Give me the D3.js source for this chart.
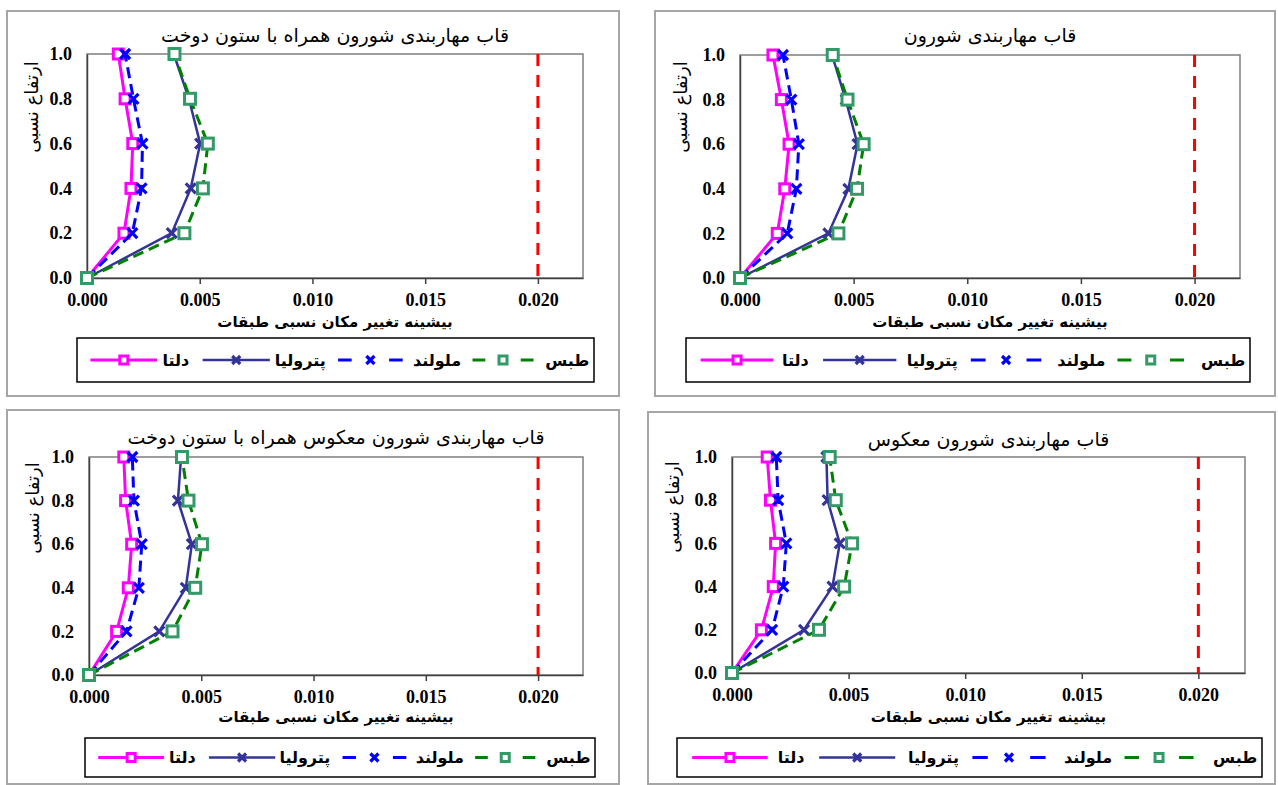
<!DOCTYPE html>
<html>
<head>
<meta charset="utf-8">
<script src="https://cdn.jsdelivr.net/npm/d3@7"></script>
<style>
  body { margin: 0; background: #fff; }
</style>
</head>
<body>
<script>
// relative height of each floor
const heights = [0, 0.2, 0.4, 0.6, 0.8, 1.0];
const names = ["دلتا", "پترولیا", "ملولند", "طبس"];
const xTicks = [0, 0.005, 0.010, 0.015, 0.020];
const yTicks = [0, 0.2, 0.4, 0.6, 0.8, 1.0];
const xMax = 0.022;
const driftLimit = 0.020;
const titles = [
  "قاب مهاربندی شورون همراه با ستون دوخت",
  "قاب مهاربندی شورون",
  "قاب مهاربندی شورون معکوس همراه با ستون دوخت",
  "قاب مهاربندی شورون معکوس"
];
const xTitle = "بیشینه تغییر مکان نسبی طبقات";
const yTitle = "ارتفاع نسبی";

// top-left
const tlDelta    = [0, 0.00164, 0.00195, 0.00203, 0.00169, 0.00139];
const tlPetrolia = [0, 0.00376, 0.00460, 0.00502, 0.00452, 0.00385];
const tlMalolend = [0, 0.00201, 0.00242, 0.00246, 0.00206, 0.00169];
const tlTabas    = [0, 0.00432, 0.00514, 0.00536, 0.00457, 0.00388];
// top-right
const trDelta    = [0, 0.00164, 0.00197, 0.00216, 0.00182, 0.00145];
const trPetrolia = [0, 0.00389, 0.00477, 0.00517, 0.00465, 0.00405];
const trMalolend = [0, 0.00208, 0.00248, 0.00259, 0.00226, 0.00189];
const trTabas    = [0, 0.00433, 0.00515, 0.00544, 0.00473, 0.00408];
// bottom-left
const blDelta    = [0, 0.00123, 0.00175, 0.00190, 0.00163, 0.00155];
const blPetrolia = [0, 0.00313, 0.00431, 0.00458, 0.00396, 0.00410];
const blMalolend = [0, 0.00167, 0.00222, 0.00235, 0.00200, 0.00193];
const blTabas    = [0, 0.00372, 0.00473, 0.00503, 0.00443, 0.00414];
// bottom-right
const brDelta    = [0, 0.00126, 0.00177, 0.00187, 0.00165, 0.00151];
const brPetrolia = [0, 0.00309, 0.00431, 0.00462, 0.00410, 0.00405];
const brMalolend = [0, 0.00172, 0.00220, 0.00233, 0.00198, 0.00190];
const brTabas    = [0, 0.00373, 0.00481, 0.00515, 0.00445, 0.00419];

const styles = [
  { color: "#ff00ff", width: 3,   dash: null,   marker: "square", mColor: "#ff00ff", size: 13 },
  { color: "#333399", width: 2.5, dash: null,   marker: "x",      mColor: "#333399", size: 13 },
  { color: "#0000ff", width: 3,   dash: "11,6", marker: "x",      mColor: "#0000ff", size: 13 },
  { color: "#008000", width: 3,   dash: "11,6", marker: "square", mColor: "#339966", size: 14 }
];

// legend item positions as fraction of legend box width: sample start, sample end, text right
const legendPos = [
  [0.026, 0.155, 0.223],
  [0.243, 0.373, 0.487],
  [0.505, 0.630, 0.749],
  [0.765, 0.883, 0.997]
];

const panels = [
  { series: [tlDelta, tlPetrolia, tlMalolend, tlTabas], title: titles[0],
    outer: [7, 11, 619, 396], plot: [87, 54, 583, 278], legend: [77, 338, 594, 382],
    titleY: 42, yTitleX: 33, yTitleY: 107, xTitleY: 327 },
  { series: [trDelta, trPetrolia, trMalolend, trTabas], title: titles[1],
    outer: [655, 11, 1275, 396], plot: [740, 55, 1240, 278], legend: [686, 338, 1250, 382],
    titleY: 42, yTitleX: 682, yTitleY: 107, xTitleY: 327 },
  { series: [blDelta, blPetrolia, blMalolend, blTabas], title: titles[2],
    outer: [7, 410, 619, 784], plot: [89, 457, 583, 675], legend: [85, 738, 595, 777],
    titleY: 444, yTitleX: 34, yTitleY: 508, xTitleY: 722 },
  { series: [brDelta, brPetrolia, brMalolend, brTabas], title: titles[3],
    outer: [648, 412, 1275, 784], plot: [732, 457, 1245, 673], legend: [677, 738, 1262, 777],
    titleY: 446, yTitleX: 674, yTitleY: 507, xTitleY: 722 }
];

const faFont = "'DejaVu Sans', sans-serif";
const numFont = "'Liberation Serif', 'Times New Roman', serif";

const svg = d3.select("body").append("svg")
  .attr("width", 1278)
  .attr("height", 785);

function drawMarker(g, type, cx, cy, size, color) {
  const h = size / 2;
  if (type === "square") {
    g.append("rect")
      .attr("x", cx - h + 1.5).attr("y", cy - h + 1.5)
      .attr("width", size - 3).attr("height", size - 3)
      .attr("fill", "#fff").attr("stroke", color).attr("stroke-width", 3);
  } else {
    const k = h - 1.5;
    g.append("path")
      .attr("d", `M${cx - k},${cy - k}L${cx + k},${cy + k}M${cx - k},${cy + k}L${cx + k},${cy - k}`)
      .attr("stroke", color).attr("stroke-width", 3.2).attr("fill", "none");
  }
}

panels.forEach(p => {
  const [ox0, oy0, ox1, oy1] = p.outer;
  const [px0, py0, px1, py1] = p.plot;
  const g = svg.append("g");

  g.append("rect")
    .attr("x", ox0).attr("y", oy0)
    .attr("width", ox1 - ox0).attr("height", oy1 - oy0)
    .attr("fill", "#fff").attr("stroke", "#a6a6a6").attr("stroke-width", 2);

  const x = d3.scaleLinear().domain([0, xMax]).range([px0, px1]);
  const y = d3.scaleLinear().domain([0, 1]).range([py1, py0]);

  // plot frame
  g.append("rect")
    .attr("x", px0).attr("y", py0)
    .attr("width", px1 - px0).attr("height", py1 - py0)
    .attr("fill", "none").attr("stroke", "#7f7f7f").attr("stroke-width", 1.5);

  const xAxis = g.append("g")
    .attr("transform", `translate(0,${py1})`)
    .call(d3.axisBottom(x).tickValues(xTicks).tickFormat(d3.format(".3f"))
      .tickSize(6).tickSizeOuter(0).tickPadding(9));
  const yAxis = g.append("g")
    .attr("transform", `translate(${px0},0)`)
    .call(d3.axisLeft(y).tickValues(yTicks).tickFormat(d3.format(".1f"))
      .tickSize(0).tickPadding(15));
  [xAxis, yAxis].forEach(a => {
    a.attr("font-family", numFont).attr("font-size", 18);
    a.select(".domain").attr("stroke", "#404040").attr("stroke-width", 1.5);
    a.selectAll(".tick line").attr("stroke", "#404040").attr("stroke-width", 1.5);
    a.selectAll("text")
      .style("font-family", numFont).style("font-weight", "bold")
      .style("font-size", "18px").attr("fill", "#000");
  });

  // drift limit
  g.append("line")
    .attr("x1", x(driftLimit)).attr("x2", x(driftLimit))
    .attr("y1", y(1)).attr("y2", y(0))
    .attr("stroke", "#ff0000").attr("stroke-width", 3)
    .attr("stroke-dasharray", "12,9");

  const line = d3.line()
    .x(d => x(d[0]))
    .y(d => y(d[1]));

  p.series.forEach((vals, i) => {
    const st = styles[i];
    const pts = vals.map((v, j) => [v, heights[j]]);
    g.append("path")
      .datum(pts)
      .attr("d", line)
      .attr("fill", "none")
      .attr("stroke", st.color)
      .attr("stroke-width", st.width)
      .attr("stroke-dasharray", st.dash);
    pts.forEach(d => drawMarker(g, st.marker, x(d[0]), y(d[1]), st.size, st.mColor));
  });

  // titles
  g.append("text")
    .attr("x", (px0 + px1) / 2).attr("y", p.titleY)
    .attr("text-anchor", "middle")
    .attr("font-family", faFont).attr("font-size", 19)
    .text(p.title);

  g.append("text")
    .attr("x", (px0 + px1) / 2).attr("y", p.xTitleY)
    .attr("text-anchor", "middle")
    .attr("font-family", faFont).attr("font-size", 15).attr("font-weight", "bold")
    .text(xTitle);

  g.append("text")
    .attr("transform", `translate(${p.yTitleX},${p.yTitleY}) rotate(-90)`)
    .attr("text-anchor", "middle")
    .attr("dominant-baseline", "middle")
    .attr("font-family", faFont).attr("font-size", 18)
    .text(yTitle);

  // legend
  const [lx0, ly0, lx1, ly1] = p.legend;
  const lw = lx1 - lx0;
  const lcy = (ly0 + ly1) / 2;
  g.append("rect")
    .attr("x", lx0).attr("y", ly0)
    .attr("width", lw).attr("height", ly1 - ly0)
    .attr("fill", "#fff").attr("stroke", "#000").attr("stroke-width", 1.5);

  names.forEach((name, i) => {
    const st = styles[i];
    const [s0, s1, tr] = legendPos[i];
    const a = lx0 + s0 * lw, b = lx0 + s1 * lw;
    const sl = b - a;
    g.append("line")
      .attr("x1", a).attr("x2", b).attr("y1", lcy).attr("y2", lcy)
      .attr("stroke", st.color).attr("stroke-width", st.width)
      .attr("stroke-dasharray", st.dash ? `${sl * 0.21},${sl * 0.58}` : null);
    drawMarker(g, st.marker, (a + b) / 2, lcy, 11, st.mColor);
    g.append("text")
      .attr("x", lx0 + tr * lw - 3).attr("y", lcy + 1)
      .attr("text-anchor", "end")
      .attr("dominant-baseline", "middle")
      .attr("font-family", faFont).attr("font-size", 16).attr("font-weight", "bold")
      .text(name);
  });
});
</script>
</body>
</html>
